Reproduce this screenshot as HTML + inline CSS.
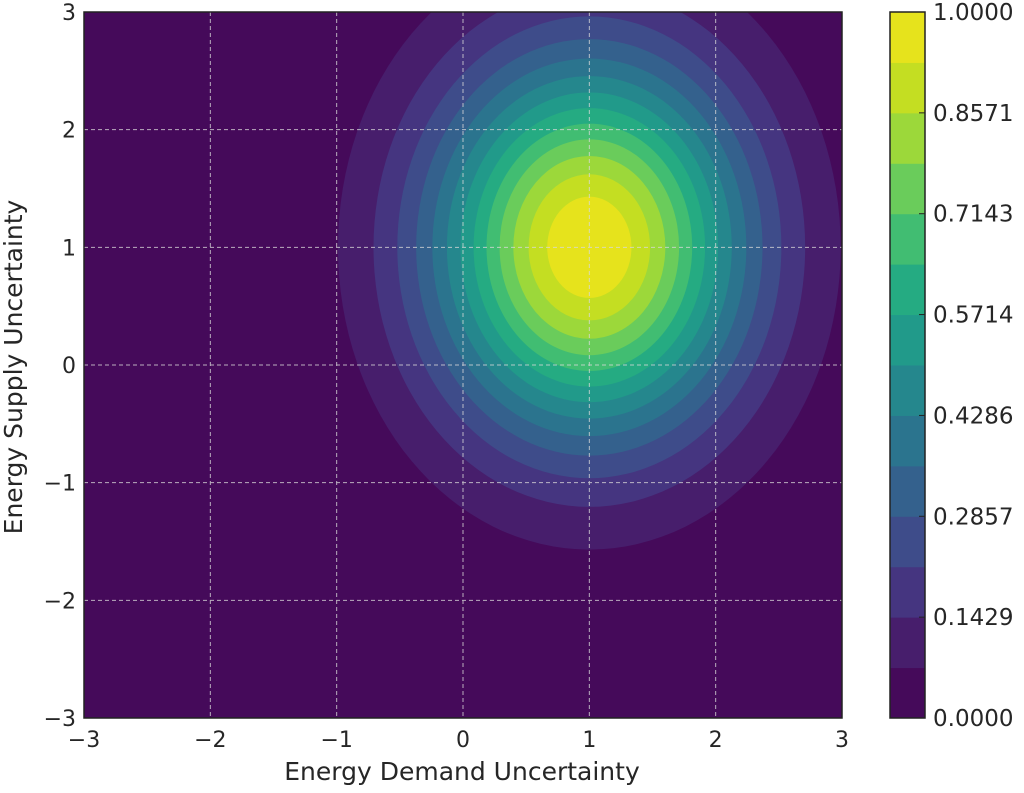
<!DOCTYPE html>
<html><head><meta charset="utf-8"><style>
body{margin:0;background:#fff;width:1024px;height:788px;overflow:hidden}
svg text{font-family:"DejaVu Sans","Liberation Sans",sans-serif;fill:#262626}
</style></head><body>
<svg id="s" width="1024" height="788" xmlns="http://www.w3.org/2000/svg">
<defs><clipPath id="c"><rect x="84" y="12" width="758" height="706"/></clipPath></defs>
<g id="plot" clip-path="url(#c)"><rect x="84" y="12" width="758" height="706" fill="#450a5a"/></g>
<g id="grid" stroke="#d8d8d8" stroke-width="1" stroke-dasharray="4,3" opacity="0.8"></g>
<rect x="84" y="12" width="758" height="706" fill="none" stroke="#222" stroke-width="1.5"/>
<g id="cb"></g>
<rect x="890" y="12" width="35" height="706" fill="none" stroke="#222" stroke-width="1.5"/>
<g id="labels" font-size="22"></g>
<text x="462" y="780" font-size="25" text-anchor="middle">Energy Demand Uncertainty</text>
<text transform="translate(22,367) rotate(-90)" font-size="25" text-anchor="middle">Energy Supply Uncertainty</text>
</svg>
<script>
var cols=["#450a5a","#471e6c","#453580","#3e4c8a","#34618d","#2b748e","#25878d","#219a8a","#25ab82","#41bd72","#6acc5b","#9cd83a","#c4de22","#e6e31c"];
var NS="http://www.w3.org/2000/svg";
function el(t,a,p){var e=document.createElementNS(NS,t);for(var k in a)e.setAttribute(k,a[k]);document.getElementById(p).appendChild(e);return e;}
var x0=84,x1=842,y0=12,y1=718;
function X(v){return x0+(v+3)/6*(x1-x0);} function Y(v){return y1-(v+3)/6*(y1-y0);}
for(var k=1;k<14;k++){var t=-Math.log(k/14);
 el("ellipse",{cx:X(1),cy:Y(1),rx:Math.sqrt(1.5*t)*(x1-x0)/6,ry:Math.sqrt(2.5*t)*(y1-y0)/6,fill:cols[k]},"plot");}
for(var v=-2;v<=2;v++){el("line",{x1:X(v),x2:X(v),y1:y0,y2:y1},"grid");el("line",{y1:Y(v),y2:Y(v),x1:x0,x2:x1},"grid");}
for(var v=-3;v<=3;v++){var s=(v<0?"\u2212":"")+Math.abs(v);
 var a=el("text",{x:X(v),y:747,"text-anchor":"middle"},"labels");a.textContent=s;
 var b=el("text",{x:76,y:Y(v)+8,"text-anchor":"end"},"labels");b.textContent=s;}
var h=706/14;
for(var i=0;i<14;i++){el("rect",{x:890,y:718-(i+1)*h,width:35,height:h+0.5,fill:cols[i]},"cb");}
for(var i=0;i<=14;i+=2){var y=718-i*h;el("line",{x1:919,x2:925,y1:y,y2:y,stroke:"#222"},"cb");
 var t=el("text",{x:933,y:y+8,"font-size":"23"},"labels");t.textContent=(i/14).toFixed(4);}
</script>
</body></html>
